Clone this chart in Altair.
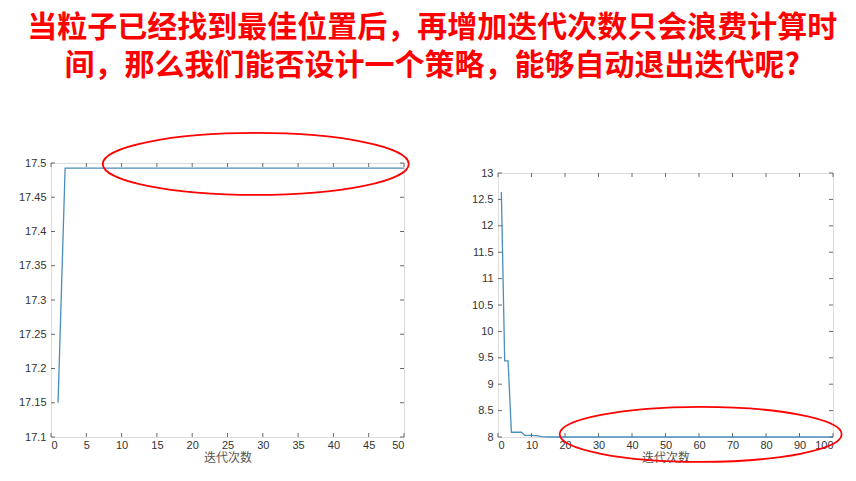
import altair as alt
import pandas as pd

# ---------------- data ----------------
title_lines = ["当粒子已经找到最佳位置后，再增加迭代次数只会浪费计算时",
               "间，那么我们能否设计一个策略，能够自动退出迭代呢?"]

left_iter = list(range(1, 51))
left_vals = [17.15] + [17.4925] * 49

right_iter = list(range(1, 101))
right_vals = ([12.64, 9.44, 9.44, 8.09, 8.09, 8.09, 8.09, 8.03, 8.03, 8.03,
               8.025, 8.02, 8.006, 8.003] + [8.0] * 86)

left_xticks = [0, 5, 10, 15, 20, 25, 30, 35, 40, 45, 50]
left_yticks = [17.1, 17.15, 17.2, 17.25, 17.3, 17.35, 17.4, 17.45, 17.5]
right_xticks = [0, 10, 20, 30, 40, 50, 60, 70, 80, 90, 100]
right_yticks = [8, 8.5, 9, 9.5, 10, 10.5, 11, 11.5, 12, 12.5, 13]

xlabel = "迭代次数"

# annotation ellipses: centre (data units)
left_ell = {"x": [29.0], "y": [17.4986]}
right_ell = {"x": [60.5], "y": [8.05]}

LINE_COLOR = "#4a8ebd"
FRAME = "#6a6a6a"
LABEL_FONT = "Liberation Sans"


def ellipse_path(ratio):
    return f"M-1,0A1,{ratio},0,1,0,1,0A1,{ratio},0,1,0,-1,0"


def panel(xs, ys, xticks, yticks, xdom, ydom, W, H, ell, ell_w, ell_h, yext):
    df = pd.DataFrame({"x": xs, "y": ys})
    xs_ = alt.Scale(domain=xdom, nice=False, zero=False)
    ys_ = alt.Scale(domain=ydom, nice=False, zero=False)
    xaxis = alt.Axis(values=xticks, labelExpr="'' + datum.value", labelOverlap=False,
                     ticks=False, domain=False, grid=False,
                     labelPadding=2, labelFontSize=11, labelFont=LABEL_FONT,
                     labelColor="#333", title=xlabel, titleFont="Noto Sans CJK SC",
                     titleFontSize=12, titleFontWeight="normal", titleColor="#555",
                     titlePadding=2)
    yaxis = alt.Axis(values=yticks, labelExpr="'' + datum.value", labelOverlap=False,
                     ticks=False, domain=False, grid=False,
                     labelPadding=5, labelFontSize=11, labelFont=LABEL_FONT,
                     labelColor="#333", title=None, minExtent=yext, maxExtent=yext)
    X = lambda f: alt.X(f, scale=xs_, axis=xaxis, title=xlabel)
    Y = lambda f: alt.Y(f, scale=ys_, axis=yaxis, title=None)
    line = alt.Chart(df).mark_line(color=LINE_COLOR, strokeWidth=1.3).encode(
        x=X("x:Q"), y=Y("y:Q"))
    xt = pd.DataFrame({"t": xticks})
    yt = pd.DataFrame({"t": yticks})
    tk = dict(color=FRAME, strokeWidth=1)
    xb = alt.Chart(xt).mark_rule(**tk).encode(
        x=X("t:Q"), y=alt.value(H), y2=alt.value(H - 4))
    xtop = alt.Chart(xt).mark_rule(**tk).encode(
        x=X("t:Q"), y=alt.value(0), y2=alt.value(4))
    yl = alt.Chart(yt).mark_rule(**tk).encode(
        y=Y("t:Q"), x=alt.value(0), x2=alt.value(4))
    yr = alt.Chart(yt).mark_rule(**tk).encode(
        y=Y("t:Q"), x=alt.value(W), x2=alt.value(W - 4))
    e = alt.Chart(pd.DataFrame(ell)).mark_point(
        shape=ellipse_path(round(ell_h / ell_w, 4)), size=ell_w ** 2,
        filled=False, stroke="#ff0000", strokeWidth=1.8, opacity=1).encode(
        x=X("x:Q"), y=Y("y:Q"))
    return alt.layer(line, xb, xtop, yl, yr, e).properties(width=W, height=H)


left = panel(left_iter, left_vals, left_xticks, left_yticks, [0, 50], [17.1, 17.5],
             353, 274, left_ell, 306, 62, 42)
right_panel = panel(right_iter, right_vals, right_xticks, right_yticks, [0, 100], [8, 13],
                    335, 264, right_ell, 282, 55, 40)
spacer = alt.Chart(pd.DataFrame({"a": [0]})).mark_point(opacity=0, size=0).encode(
    x=alt.value(0), y=alt.value(0)).properties(
    width=1, height=2, view=alt.ViewBackground(stroke="transparent"))
right = alt.vconcat(spacer, right_panel, spacing=0)

chart = alt.hconcat(left, right, spacing=44).properties(
    title=alt.TitleParams(title_lines, anchor="middle", fontSize=30, lineHeight=38,
                          font="Noto Sans CJK SC", fontWeight="bold", color="#ff0000",
                          offset=48, dx=5),
    padding={"left": 0, "top": 4, "right": 0, "bottom": 0},
).configure_view(stroke=FRAME, strokeWidth=1).configure(background="white")

chart.save("out.html", embed_options={"renderer": "svg", "actions": False})
